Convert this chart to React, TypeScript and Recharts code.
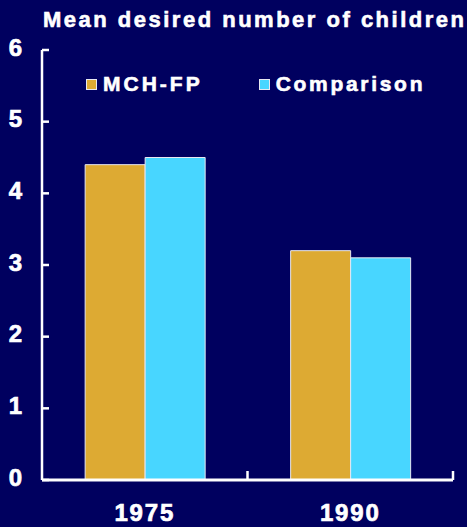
import React from "react";
import { BarChart, Bar, XAxis, YAxis } from "recharts";

const years = ["1975", "1990"];
const mchfp = [4.4, 3.2];
const comparison = [4.5, 3.1];
const yTicks = [0, 1, 2, 3, 4, 5, 6];

const BG = "#00005f";
const GOLD = "#ddaa33";
const CYAN = "#48d6ff";
const FONT = "'Liberation Sans', Arial, sans-serif";

const data = years.map((year, i) => ({
  year,
  mchfp: mchfp[i],
  comparison: comparison[i],
}));

const series = [
  { key: "mchfp", name: "MCH-FP", color: GOLD, spacing: 3 },
  { key: "comparison", name: "Comparison", color: CYAN, spacing: 2.7 },
];

const Y_MARGIN = 20;

function YTick(props: any) {
  const { x, y, payload } = props;
  const axisX = x + Y_MARGIN;
  return (
    <g>
      <line x1={axisX} x2={axisX + 7} y1={y} y2={y} stroke="#fff" strokeWidth={2.5} />
      <text
        x={x}
        y={y - 3}
        dy="0.36em"
        textAnchor="end"
        fill="#fff"
        stroke="#fff"
        strokeWidth={0.7}
        fontFamily={FONT}
        fontWeight="bold"
        fontSize={24}
      >
        {payload.value}
      </text>
    </g>
  );
}

function XTick(props: any) {
  const { x, y, payload } = props;
  const edge = x + (payload.offset || 0);
  return (
    <g>
      <line x1={edge} x2={edge} y1={y} y2={y - 9} stroke="#fff" strokeWidth={2.5} />
      <text
        x={x}
        y={y + 41}
        textAnchor="middle"
        fill="#fff"
        stroke="#fff"
        strokeWidth={0.7}
        fontFamily={FONT}
        fontWeight="bold"
        fontSize={24}
        letterSpacing={1.8}
      >
        {payload.value}
      </text>
    </g>
  );
}

function LegendBox() {
  return (
    <div
      style={{
        position: "absolute",
        left: 86,
        top: 73,
        display: "flex",
        alignItems: "center",
        fontFamily: FONT,
      }}
    >
      {series.map((s, i) => (
        <div
          key={s.key}
          style={{ display: "flex", alignItems: "center", marginRight: i === 0 ? 56 : 0 }}
        >
          <span
            style={{
              width: 11,
              height: 11,
              background: s.color,
              border: "1px solid #e8e8f0",
              boxSizing: "border-box",
              marginRight: 6,
            }}
          />
          <span
            style={{
              color: "#fff",
              fontWeight: "bold",
              fontSize: 21,
              letterSpacing: s.spacing,
              lineHeight: "22px",
              whiteSpace: "nowrap",
              WebkitTextStroke: "0.6px #fff",
            }}
          >
            {s.name}
          </span>
        </div>
      ))}
    </div>
  );
}

export default function App() {
  return (
    <div
      style={{
        position: "absolute",
        left: 0,
        top: 0,
        width: 467,
        height: 527,
        background: BG,
      }}
    >
      <div
        style={{
          position: "absolute",
          left: 43,
          top: 7,
          color: "#fff",
          fontFamily: FONT,
          fontWeight: "bold",
          fontSize: 22,
          letterSpacing: 2.5,
          whiteSpace: "nowrap",
          lineHeight: "26px",
          WebkitTextStroke: "0.6px #fff",
        }}
      >
        Mean desired number of children
      </div>
      <BarChart
        width={467}
        height={527}
        data={data}
        margin={{ top: 50, right: 14, left: 0, bottom: 0 }}
        barCategoryGap="21%"
        barGap={0}
      >
        <XAxis
          dataKey="year"
          height={47}
          axisLine={{ stroke: "#fff", strokeWidth: 3 }}
          tickLine={false}
          tickSize={0}
          tickMargin={0}
          tick={<XTick />}
          interval={0}
        />
        <YAxis
          width={42}
          domain={[0, 6]}
          ticks={yTicks}
          allowDecimals={false}
          axisLine={{ stroke: "#fff", strokeWidth: 2.5 }}
          tickLine={false}
          tickSize={0}
          tickMargin={Y_MARGIN}
          tick={<YTick />}
          interval={0}
        />
        {series.map((s) => (
          <Bar
            key={s.key}
            dataKey={s.key}
            name={s.name}
            fill={s.color}
            stroke="#e8e8f0"
            strokeWidth={1}
            isAnimationActive={false}
          />
        ))}
      </BarChart>
      <LegendBox />
    </div>
  );
}
